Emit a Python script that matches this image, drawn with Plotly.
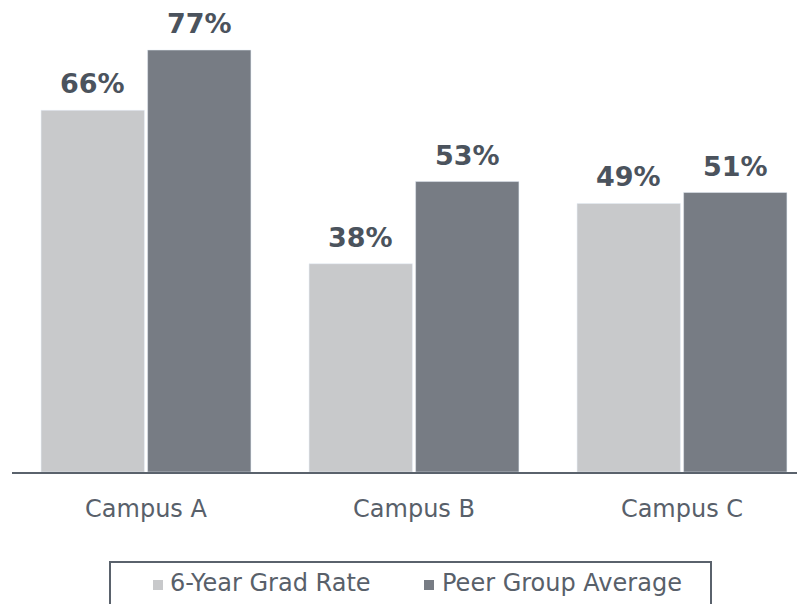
import plotly.graph_objects as go

categories = ["Campus A", "Campus B", "Campus C"]
grad_rate = [66, 38, 49]
peer_avg = [77, 53, 51]
series_names = ["6-Year Grad Rate", "Peer Group Average"]

LIGHT = "#c8c9cb"
DARK = "#777c84"
TEXT = "#4b535d"
TICK = "#58606a"
LINE = "#5a626c"

W, H = 805, 604
ML, MR, MT, MB = 4, 8, 0, 140
PW, PH = W - ML - MR, H - MT - MB


def px(x):
    return (x - ML) / PW


def py(y):
    return (H - MB - y) / PH


fig = go.Figure()
colors = [LIGHT, DARK]
for name, vals, col in zip(series_names, [grad_rate, peer_avg], colors):
    fig.add_trace(go.Bar(x=categories, y=vals, name=name, marker_color=col,
                         showlegend=False))

bargap = 0.205
groupw = 1 - bargap
off = groupw / 4
annotations = []
for i, (a, b) in enumerate(zip(grad_rate, peer_avg)):
    for dx, v in ((-off, a), (off, b)):
        annotations.append(dict(
            x=i + dx, y=v, xref="x", yref="y", text=f"<b>{v}%</b>",
            showarrow=False, yanchor="bottom", yshift=9,
            font=dict(family="DejaVu Sans", size=27, color=TEXT),
        ))

# legend drawn as a framed box with square swatches
shapes = [dict(type="rect", xref="paper", yref="paper",
               x0=px(102), x1=px(703), y0=py(554), y1=py(606),
               line=dict(color=LINE, width=2), fillcolor="rgba(0,0,0,0)")]
legend_items = [(145, 160), (416, 432)]
for (mx, tx), name, col in zip(legend_items, series_names, colors):
    shapes.append(dict(type="rect", xref="paper", yref="paper",
                       x0=px(mx), x1=px(mx + 10), y0=py(572), y1=py(582),
                       line=dict(width=0), fillcolor=col))
    annotations.append(dict(x=px(tx), y=py(575), xref="paper", yref="paper",
                            text=name, showarrow=False, xanchor="left",
                            yanchor="middle",
                            font=dict(family="DejaVu Sans", size=24, color=TICK)))

fig.update_layout(
    width=W, height=H,
    margin=dict(l=ML, r=MR, t=MT, b=MB, autoexpand=False),
    paper_bgcolor="white", plot_bgcolor="white",
    barmode="group", bargap=bargap, bargroupgap=0.03,
    font=dict(family="DejaVu Sans", size=24, color=TICK),
    annotations=annotations, shapes=shapes,
    xaxis=dict(
        range=[-0.5, -0.5 + PW / 268], showline=True, linecolor=LINE, linewidth=2,
        showgrid=False, ticks="", ticklabelstandoff=14,
        tickfont=dict(family="DejaVu Sans", size=24, color=TICK),
    ),
    yaxis=dict(range=[0, PH / 5.48], visible=False, showgrid=False),
    showlegend=False,
)

fig.write_html("out.html")
